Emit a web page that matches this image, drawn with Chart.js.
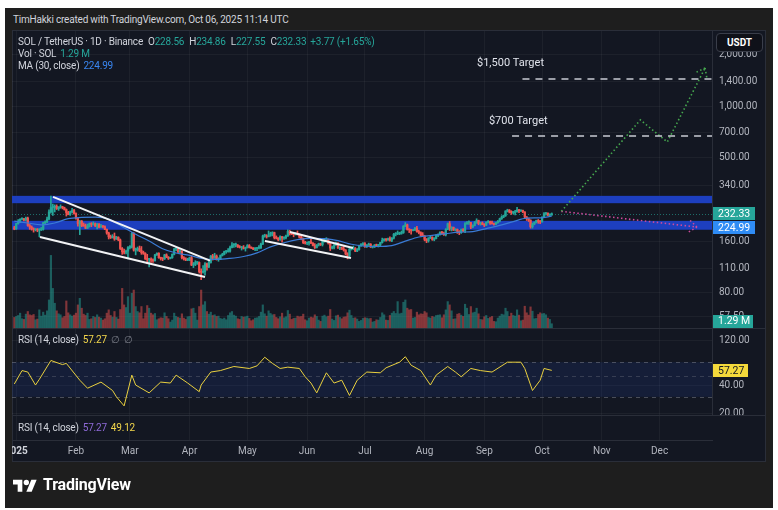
<!DOCTYPE html>
<html lang="en">
<head>
<meta charset="UTF-8">
<title>SOL / TetherUS · 1D · Binance</title>
<script src="https://cdn.jsdelivr.net/npm/chart.js@4.4.1/dist/chart.umd.min.js"></script>
<style>
    * { margin: 0; padding: 0; box-sizing: border-box; }
    body {
        width: 778px; height: 510px; background: #fff; position: relative; overflow: hidden;
        font-family: Roboto, 'Noto Sans', sans-serif;
    }
    .frame { position: absolute; left: 5px; top: 8px; width: 768px; height: 500px; background: #1e1e1e; }
    .created { position: absolute; left: 13px; top: 14px; font-size: 10px; color: #d1d4dc; letter-spacing: -0.2px; }
    .panel { position: absolute; left: 12px; top: 30px; width: 754px; height: 432px; background: #131722; border: 1px solid #2a2e39; }
    canvas { position: absolute; left: 12px; }
    #main { top: 31px; }
    #rsi { top: 329px; }
    #axis { top: 416px; }
    .sep { position: absolute; left: 12px; width: 754px; height: 1px; background: #2a2e39; }
    .legend { position: absolute; left: 18px; font-size: 10px; line-height: 12px; color: #d1d4dc; white-space: nowrap; letter-spacing: -0.2px; }
    .legend span { margin-left: 4px; }
    .legend span.k { margin-left: 5px; }
    .legend span.k + span { margin-left: 0; }
    .up { color: #26a69a; }
    .ma { color: #3a86f0; }
    .yel { color: #f2d64b; }
    .pur { color: #8e6ad8; }
    .dim { color: #787b86; }
    .unit {
        position: absolute; left: 716px; top: 33px; width: 47px; height: 19px;
        background: #0f1119; border: 1px solid #3a3e4a; border-radius: 4px;
        color: #fff; font-size: 10px; font-weight: bold; text-align: center; line-height: 17px;
    }
    .logo { position: absolute; left: 13px; top: 475px; display: flex; align-items: center; gap: 6px; color: #fff; }
    .logo span { font-size: 16px; font-weight: bold; letter-spacing: -0.2px; }
</style>
</head>
<body>
<div class="frame"></div>
<div class="created">TimHakki created with TradingView.com, Oct 06, 2025 11:14 UTC</div>
<div class="panel"></div>

<canvas id="main" width="754" height="297"></canvas>
<div class="sep" style="top:328px"></div>
<canvas id="rsi" width="754" height="86"></canvas>
<div class="sep" style="top:415px"></div>
<canvas id="axis" width="754" height="46"></canvas>

<div class="legend" style="top:36px">SOL / TetherUS · 1D · Binance<span class="k">O</span><span class="up">228.56</span><span class="k">H</span><span class="up">234.86</span><span class="k">L</span><span class="up">227.55</span><span class="k">C</span><span class="up">232.33</span><span class="up">+3.77 (+1.65%)</span></div>
<div class="legend" style="top:48px">Vol · SOL<span class="up">1.29 M</span></div>
<div class="legend" style="top:60px">MA (30, close)<span class="ma">224.99</span></div>
<div class="legend" style="top:334px">RSI (14, close)<span class="yel">57.27</span><span class="dim">∅</span><span class="dim">∅</span></div>
<div class="legend" style="top:422px">RSI (14, close)<span class="pur">57.27</span><span class="yel">49.12</span></div>
<div class="unit">USDT</div>

<div class="logo">
    <svg width="24" height="15" viewBox="0 0 36 22"><path fill="#fff" d="M14 22H7V11H0V4h14v18z"/><circle fill="#fff" cx="20" cy="8" r="4"/><path fill="#fff" d="M28 22h-8l7.5-18h8L28 22z"/></svg>
    <span>TradingView</span>
</div>

<script>
    const FONT = "Roboto, 'Noto Sans', sans-serif";

    // time axis: days counted from Jan 1 2025
    const X_MIN = -2.2, X_MAX = 361.2;
    const FIRST_DAY = -1; // first candle is Dec 31 2024
    const monthDays = [0, 31, 59, 90, 120, 151, 181, 212, 243, 273, 304, 334];
    const monthLabels = ['2025', 'Feb', 'Mar', 'Apr', 'May', 'Jun', 'Jul', 'Aug', 'Sep', 'Oct', 'Nov', 'Dec'];

    const priceTicks = [57.5, 80, 110, 160, 340, 500, 700, 1000, 1400, 2000];
    const rsiTicks = [20, 40, 120];

    // daily candles, Dec 31 .. Oct 6 (one row per month)
    const open = [192,
        189, 203, 208, 216, 217, 213, 219, 198, 194, 190, 187, 187, 186, 187, 188, 205, 208, 216, 238, 253, 253, 257, 249, 253, 254, 252, 246, 236, 230, 238, 243,
        233, 218, 203, 210, 198, 197, 191, 196, 203, 201, 203, 197, 202, 194, 197, 195, 188, 179, 170, 168, 171, 165, 169, 163, 145, 139, 138, 140,
        147, 148, 178, 142, 143, 145, 141, 137, 136, 126, 125, 125, 124, 123, 133, 136, 128, 127, 126, 133, 129, 127, 128, 134, 144, 144, 139, 140, 128, 126, 124,
        124, 128, 116, 117, 120, 120, 106, 105, 106, 118, 113, 120, 131, 127, 131, 125, 125, 132, 134, 139, 139, 140, 147, 152, 152, 152, 149, 147, 147, 145,
        147, 151, 147, 146, 144, 145, 146, 146, 154, 172, 172, 170, 173, 178, 180, 168, 167, 164, 170, 167, 168, 172, 183, 178, 177, 175, 178, 176, 169, 165, 157,
        156, 156, 159, 156, 151, 147, 152, 155, 153, 161, 163, 164, 156, 146, 147, 152, 155, 146, 146, 144, 142, 135, 132, 144, 145, 145, 140, 143, 151, 152,
        155, 149, 152, 154, 148, 148, 152, 151, 152, 157, 162, 164, 163, 166, 162, 167, 176, 177, 177, 178, 180, 196, 200, 188, 187, 185, 187, 191, 182, 180, 173,
        172, 164, 161, 167, 169, 164, 166, 173, 175, 181, 178, 175, 188, 203, 191, 193, 186, 188, 183, 180, 187, 184, 203, 206, 206, 194, 198, 206, 212, 203, 205,
        201, 199, 207, 209, 205, 203, 201, 206, 210, 217, 222, 226, 241, 244, 238, 236, 236, 239, 245, 241, 243, 238, 222, 217, 213, 195, 202, 207, 212, 209,
        208, 222, 232, 234, 228, 228.56];
    const high = [196,
        204, 215, 217, 220, 218, 222, 222, 201, 197, 192, 190, 190, 190, 193, 207, 211, 222, 245, 295, 265, 262, 262, 256, 262, 257, 254, 248, 240, 241, 250, 247,
        235, 220, 212, 212, 205, 202, 202, 205, 206, 208, 205, 204, 203, 201, 198, 197, 189, 181, 174, 175, 179, 171, 170, 165, 147, 144, 142, 149,
        151, 180, 180, 146, 148, 150, 149, 140, 137, 134, 127, 128, 126, 134, 137, 137, 129, 128, 134, 135, 130, 129, 135, 145, 147, 146, 143, 141, 130, 128, 127,
        129, 131, 120, 123, 121, 121, 110, 115, 120, 119, 122, 132, 134, 136, 133, 128, 133, 136, 140, 141, 145, 150, 157, 155, 156, 153, 151, 149, 151, 148,
        153, 153, 148, 147, 147, 147, 151, 156, 174, 176, 175, 184, 181, 182, 181, 172, 168, 172, 171, 170, 174, 187, 186, 180, 178, 180, 184, 177, 172, 167, 160,
        158, 160, 164, 157, 155, 153, 156, 156, 162, 165, 168, 165, 157, 150, 153, 158, 157, 148, 148, 149, 143, 137, 146, 148, 150, 147, 145, 152, 155, 157,
        157, 153, 156, 155, 150, 153, 154, 153, 158, 167, 166, 166, 167, 170, 168, 178, 180, 184, 181, 184, 198, 206, 202, 189, 188, 188, 193, 196, 186, 182, 180,
        173, 166, 168, 172, 170, 168, 175, 177, 182, 183, 181, 190, 205, 209, 195, 194, 190, 189, 185, 189, 190, 206, 209, 211, 207, 200, 209, 217, 213, 207, 208,
        203, 208, 212, 210, 210, 205, 207, 212, 219, 226, 228, 242, 247, 246, 242, 239, 243, 253, 247, 245, 244, 239, 224, 219, 214, 205, 208, 213, 215, 212,
        223, 236, 237, 235, 232, 234.86];
    const low = [187,
        188, 202, 206, 214, 211, 211, 196, 188, 186, 181, 184, 182, 170, 185, 186, 200, 206, 214, 234, 227, 238, 246, 243, 250, 248, 244, 225, 229, 227, 235, 231,
        216, 196, 175, 195, 196, 190, 190, 194, 195, 199, 195, 189, 192, 193, 192, 187, 176, 165, 166, 167, 162, 164, 161, 143, 134, 135, 135, 126,
        144, 146, 140, 133, 140, 139, 134, 134, 125, 118, 113, 120, 120, 122, 132, 127, 124, 123, 125, 128, 125, 126, 127, 133, 141, 137, 137, 126, 124, 123, 123,
        123, 115, 112, 115, 117, 104, 95, 104, 101, 108, 112, 119, 124, 127, 124, 122, 125, 131, 133, 136, 138, 138, 146, 147, 148, 147, 146, 142, 144, 140,
        146, 146, 145, 143, 141, 141, 144, 145, 153, 169, 167, 170, 171, 172, 165, 165, 161, 162, 158, 164, 165, 171, 174, 175, 170, 174, 174, 167, 163, 155, 154,
        153, 152, 155, 150, 145, 146, 150, 151, 150, 158, 160, 154, 141, 144, 144, 151, 145, 143, 143, 140, 133, 126, 130, 142, 143, 139, 139, 142, 149, 151,
        147, 147, 151, 147, 146, 147, 149, 148, 150, 156, 160, 160, 162, 160, 159, 165, 172, 175, 175, 176, 178, 195, 186, 180, 176, 184, 185, 181, 177, 172, 171,
        161, 157, 158, 166, 162, 161, 165, 170, 174, 176, 173, 172, 187, 185, 184, 185, 184, 178, 175, 178, 182, 180, 201, 201, 190, 192, 197, 204, 200, 199, 200,
        195, 198, 205, 201, 202, 199, 200, 204, 208, 215, 220, 224, 238, 235, 230, 232, 229, 237, 236, 240, 236, 218, 212, 209, 191, 191, 200, 205, 204, 203,
        207, 221, 228, 226, 225, 227.55];
    const close = [189,
        203, 208, 216, 217, 213, 219, 198, 194, 190, 187, 187, 186, 187, 188, 205, 208, 216, 238, 253, 253, 257, 249, 253, 254, 252, 246, 236, 230, 238, 243, 233,
        218, 203, 210, 198, 197, 191, 196, 203, 201, 203, 197, 202, 194, 197, 195, 188, 179, 170, 168, 171, 165, 169, 163, 145, 139, 138, 140, 147,
        148, 178, 142, 143, 145, 141, 137, 136, 126, 125, 125, 124, 123, 133, 136, 128, 127, 126, 133, 129, 127, 128, 134, 144, 144, 139, 140, 128, 126, 124, 124,
        128, 116, 117, 120, 120, 106, 105, 106, 118, 113, 120, 131, 127, 131, 125, 125, 132, 134, 139, 139, 140, 147, 152, 152, 152, 149, 147, 147, 145, 147,
        151, 147, 146, 144, 145, 146, 146, 154, 172, 172, 170, 173, 178, 180, 168, 167, 164, 170, 167, 168, 172, 183, 178, 177, 175, 178, 176, 169, 165, 157, 156,
        156, 159, 156, 151, 147, 152, 155, 153, 161, 163, 164, 156, 146, 147, 152, 155, 146, 146, 144, 142, 135, 132, 144, 145, 145, 140, 143, 151, 152, 155,
        149, 152, 154, 148, 148, 152, 151, 152, 157, 162, 164, 163, 166, 162, 167, 176, 177, 177, 178, 180, 196, 200, 188, 187, 185, 187, 191, 182, 180, 173, 172,
        164, 161, 167, 169, 164, 166, 173, 175, 181, 178, 175, 188, 203, 191, 193, 186, 188, 183, 180, 187, 184, 203, 206, 206, 194, 198, 206, 212, 203, 205, 201,
        199, 207, 209, 205, 203, 201, 206, 210, 217, 222, 226, 241, 244, 238, 236, 236, 239, 245, 241, 243, 238, 222, 217, 213, 195, 202, 207, 212, 209, 208,
        222, 232, 234, 228, 228.56, 232.33];
    // volume in millions of SOL
    const volume = [3.2,
        3.5, 3.8, 4.5, 2.8, 2.6, 4.2, 5.0, 4.0, 3.8, 4.1, 2.5, 2.7, 5.5, 3.6, 4.8, 3.9, 5.2, 8.5, 22.0, 12.0, 7.5, 5.2, 4.3, 4.0, 3.1, 3.5, 8.2, 4.6, 4.0, 3.6, 3.9,
        4.5, 7.0, 9.0, 6.0, 4.2, 3.8, 4.5, 2.6, 2.8, 3.5, 3.2, 4.0, 3.3, 3.0, 2.4, 2.8, 4.5, 5.5, 3.8, 3.3, 5.0, 3.2, 2.7, 5.6, 12.0, 7.0, 6.2, 9.5,
        4.5, 10.5, 11.5, 6.5, 5.0, 4.6, 6.5, 2.8, 4.5, 6.8, 6.0, 4.5, 4.0, 4.4, 2.5, 2.8, 3.1, 3.0, 4.6, 3.5, 2.8, 1.8, 2.4, 4.5, 3.5, 3.2, 3.0, 4.3, 3.0, 2.6, 3.4,
        3.5, 5.8, 6.0, 4.5, 2.4, 6.5, 11.5, 7.0, 8.0, 5.0, 4.2, 4.8, 3.8, 4.0, 3.5, 3.6, 2.9, 2.7, 3.0, 2.5, 3.8, 4.6, 5.0, 3.9, 3.6, 2.8, 2.6, 3.5, 3.3, 3.4,
        3.6, 2.9, 2.2, 2.5, 3.0, 3.1, 3.5, 4.8, 7.0, 4.3, 3.6, 5.2, 4.4, 4.0, 4.1, 3.2, 2.8, 3.4, 4.5, 3.1, 3.4, 5.3, 4.2, 2.6, 2.9, 3.0, 3.6, 3.4, 3.5, 4.2, 2.5,
        2.2, 3.0, 3.3, 3.1, 4.0, 3.5, 2.4, 2.0, 3.6, 3.9, 3.4, 3.6, 5.6, 2.7, 2.3, 3.7, 3.9, 3.2, 2.8, 3.3, 3.4, 4.6, 5.4, 3.8, 3.0, 3.1, 2.7, 2.0, 2.3, 2.9,
        3.1, 3.0, 2.8, 2.9, 1.8, 2.0, 2.5, 2.4, 3.2, 4.6, 4.0, 2.4, 2.3, 3.8, 4.5, 5.0, 4.4, 8.0, 4.3, 4.5, 7.8, 8.5, 6.0, 5.5, 5.6, 3.0, 3.2, 4.8, 4.0, 4.3, 4.2,
        5.0, 4.6, 3.2, 3.0, 3.5, 3.3, 3.8, 3.9, 4.0, 3.1, 4.0, 5.5, 8.0, 7.0, 5.2, 2.7, 2.8, 4.2, 4.4, 3.9, 3.5, 7.2, 6.0, 4.1, 6.5, 4.6, 4.8, 6.0, 4.3, 2.6, 2.5,
        3.4, 3.8, 2.9, 3.2, 3.5, 2.0, 1.9, 3.0, 3.6, 4.2, 4.0, 6.0, 5.0, 3.5, 4.5, 3.8, 3.6, 5.5, 3.9, 2.2, 2.4, 6.6, 4.6, 3.9, 6.4, 5.1, 2.8, 2.9, 4.1, 4.6,
        4.3, 4.4, 4.0, 3.0, 2.6, 1.29];

    // MA (30, close)
    const maDay = [-1, 6, 13, 20, 27, 34, 41, 48, 55, 62, 69, 76, 83, 90, 97, 104, 111, 118, 125, 132, 139, 146, 153, 160, 167, 174, 181, 188, 195, 202, 209, 216, 223, 230, 237, 244, 251, 258, 265, 272, 278];
    const maValue = [210, 205, 200, 205, 217.5, 221, 222, 216, 195, 176, 160.5, 144.6, 136.4, 132.2, 126.2, 125.2, 126.9, 130.2, 136.7, 148.2, 156.9, 163.5, 166.6, 165.8, 161.3, 153.6, 149.5, 149, 150.7, 160.2, 169.5, 173.3, 177.3, 180.9, 182.3, 190.1, 198.3, 208.9, 218.8, 219.7, 224.99];

    // RSI (14, close)
    const rsiDay = [-1, 3, 6, 10, 12, 18, 24, 26, 33, 37, 44, 50, 52, 56, 60, 62, 69, 75, 80, 83, 89, 95, 96, 101, 106, 113, 121, 125, 129, 133, 137, 141, 147, 150, 153, 156, 161, 165, 169, 173, 177, 182, 189, 192, 199, 202, 205, 210, 215, 218, 224, 228, 231, 236, 241, 247, 255, 262, 264, 268, 272, 274, 278];
    const rsiValue = [41, 57, 55, 40, 46, 73, 66, 68, 45, 37, 43, 35, 30, 24, 51, 40, 33, 43, 42, 51, 42, 34, 40, 55, 57, 63, 60, 64, 79, 68, 60, 62, 60, 49, 42, 33, 54, 42, 45, 31, 45, 55, 54, 61, 70, 80, 65, 57, 40, 51, 63, 55, 49, 60, 57, 55, 70, 70, 60, 35, 45, 60, 57.27];

    const lastClose = 232.33, lastMA = 224.99, lastVol = 1.29, lastRsi = 57.27;

    // drawings: supply / demand zones [low, high]
    const zones = [[187, 211], [268, 296]];
    // trend lines, [day, price] pairs
    const trendLines = [
        [[19.1, 292], [100.6, 123]],
        [[12.3, 169.5], [98, 98.6]],
        [[142.1, 181.5], [174.8, 146]],
        [[129.1, 160.7], [173.8, 127.6]]
    ];
    const bullDay = [283, 324, 338, 357.6];
    const bullPrice = [240, 828, 614, 1674];
    const bearDay = [283, 353.4];
    const bearPrice = [240, 194];
    const targetPrice = [1442, 667];
    const targetFrom = [262.8, 257.4];
    const targetText = ['$1,500 Target', '$700 Target'];
    const targetTextDay = [239.2, 245.4];
    const targetTextPrice = [1791, 816];

    const P_MIN = 49.4, P_MAX = 2763, VOL_MAX = 90;
    const RSI_MIN = 19.2, RSI_MAX = 157.8;

    const UP = '#26a69a', DOWN = '#ef5350';
    const BULL = '#46a84f', BEAR = '#cf4a9c';
    const GRID = 'rgba(255,255,255,0.045)';

    const days = close.map((_, i) => FIRST_DAY + i);
    const isUp = close.map((c, i) => c >= open[i]);
    const fmt = v => v.toLocaleString('en-US', { minimumFractionDigits: 2, maximumFractionDigits: 2 });

    function monthGrid() {
        return {
            type: 'linear', min: X_MIN, max: X_MAX, offset: false,
            afterBuildTicks: s => { s.ticks = monthDays.map(v => ({ value: v })); },
            ticks: { display: false },
            grid: { color: GRID, drawTicks: false, offset: false },
            border: { display: false },
            afterFit: s => { s.height = 0; s.paddingLeft = 0; s.paddingRight = 0; }
        };
    }

    function rightAxis(type, min, max, tickValues) {
        return {
            type, position: 'right', min, max,
            afterBuildTicks: s => { s.ticks = tickValues.map(v => ({ value: v })); },
            ticks: { color: '#b2b5be', font: { family: FONT, size: 10 }, padding: 7, autoSkip: false, callback: v => fmt(v) },
            grid: { color: GRID, drawTicks: false },
            border: { color: '#2a2e39' },
            afterFit: s => { s.width = 54; s.paddingTop = 0; s.paddingBottom = 0; }
        };
    }

    function axisBox(chart, yPix, text, bg, fg, w) {
        const { ctx, chartArea } = chart;
        const x = chartArea.right + 1;
        ctx.save();
        ctx.fillStyle = bg;
        ctx.fillRect(x, Math.round(yPix - 6.5), w, 13);
        ctx.fillStyle = fg;
        ctx.font = '10.5px ' + FONT;
        ctx.textBaseline = 'middle';
        ctx.textAlign = 'left';
        ctx.fillText(text, x + 5, yPix + 0.5);
        ctx.restore();
    }

    function arrowHead(chart, dList, pList, color) {
        const { ctx } = chart, x = chart.scales.x, y = chart.scales.y;
        const n = dList.length;
        const x1 = x.getPixelForValue(dList[n - 2]), y1 = y.getPixelForValue(pList[n - 2]);
        const x2 = x.getPixelForValue(dList[n - 1]), y2 = y.getPixelForValue(pList[n - 1]);
        const ang = Math.atan2(y2 - y1, x2 - x1);
        ctx.save();
        ctx.strokeStyle = color;
        ctx.lineWidth = 1.6;
        ctx.setLineDash([1.5, 2.5]);
        [-1, 1].forEach(s => {
            const t = ang + Math.PI + s * 0.65;
            ctx.beginPath();
            ctx.moveTo(x2, y2);
            ctx.lineTo(x2 + 10 * Math.cos(t), y2 + 10 * Math.sin(t));
            ctx.stroke();
        });
        ctx.restore();
    }

    const mainDecor = {
        id: 'mainDecor',
        beforeDatasetsDraw(chart) {
            const { ctx, chartArea: a } = chart, y = chart.scales.y;
            ctx.save();
            ctx.fillStyle = '#1d3fbf';
            zones.forEach(([lo, hi]) => {
                const top = y.getPixelForValue(hi), bottom = y.getPixelForValue(lo);
                ctx.fillRect(a.left, top, a.right - a.left, bottom - top);
            });
            const yc = Math.round(y.getPixelForValue(lastClose)) + 0.5;
            ctx.strokeStyle = 'rgba(38,166,154,0.6)';
            ctx.lineWidth = 1;
            ctx.setLineDash([1, 2]);
            ctx.beginPath();
            ctx.moveTo(a.left, yc);
            ctx.lineTo(a.right, yc);
            ctx.stroke();
            ctx.restore();
        },
        afterDatasetsDraw(chart) {
            const { ctx } = chart, x = chart.scales.x, y = chart.scales.y;
            arrowHead(chart, bullDay, bullPrice, BULL);
            arrowHead(chart, bearDay, bearPrice, BEAR);
            ctx.save();
            ctx.fillStyle = '#e0e3eb';
            ctx.font = '11px ' + FONT;
            ctx.textBaseline = 'middle';
            targetText.forEach((t, i) => {
                ctx.fillText(t, x.getPixelForValue(targetTextDay[i]), y.getPixelForValue(targetTextPrice[i]));
            });
            ctx.restore();
        },
        afterDraw(chart) {
            const y = chart.scales.y, yv = chart.scales.yv, a = chart.chartArea;
            const yClose = y.getPixelForValue(lastClose);
            const yMa = Math.max(y.getPixelForValue(lastMA), yClose + 14);
            axisBox(chart, yClose, fmt(lastClose), UP, '#fff', 42);
            axisBox(chart, yMa, fmt(lastMA), '#2f8cf5', '#fff', 42);
            axisBox(chart, Math.min(yv.getPixelForValue(lastVol), a.bottom - 7), lastVol + ' M', UP, '#fff', 40);
        }
    };

    const rsiDecor = {
        id: 'rsiDecor',
        beforeDatasetsDraw(chart) {
            const { ctx, chartArea: a } = chart, y = chart.scales.y;
            const y70 = y.getPixelForValue(70), y50 = y.getPixelForValue(50), y30 = y.getPixelForValue(30);
            ctx.save();
            ctx.fillStyle = 'rgba(41,98,255,0.1)';
            ctx.fillRect(a.left, y70, a.right - a.left, y30 - y70);
            ctx.setLineDash([4, 4]);
            ctx.lineWidth = 1;
            [[y70, 0.55], [y50, 0.35], [y30, 0.55]].forEach(([py, al]) => {
                ctx.strokeStyle = 'rgba(120,123,134,' + al + ')';
                ctx.beginPath();
                ctx.moveTo(a.left, Math.round(py) + 0.5);
                ctx.lineTo(a.right, Math.round(py) + 0.5);
                ctx.stroke();
            });
            ctx.restore();
        },
        afterDraw(chart) {
            axisBox(chart, chart.scales.y.getPixelForValue(lastRsi), fmt(lastRsi), '#f4d93b', '#131722', 35);
        }
    };

    const base = {
        responsive: false,
        animation: false,
        events: [],
        layout: { padding: 0 },
        plugins: { legend: { display: false }, tooltip: { enabled: false } }
    };

    // Price + volume pane
    new Chart(document.getElementById('main'), {
        type: 'bar',
        data: {
            datasets: [
                {
                    type: 'bar', yAxisID: 'yv', order: 10, grouped: false, barThickness: 1.5,
                    data: days.map((d, i) => ({ x: d, y: volume[i] })),
                    backgroundColor: isUp.map(u => u ? 'rgba(38,166,154,0.5)' : 'rgba(239,83,80,0.5)')
                },
                {
                    type: 'bar', yAxisID: 'y', order: 9, grouped: false, barThickness: 1,
                    data: days.map((d, i) => ({ x: d, y: [low[i], high[i]] })),
                    backgroundColor: isUp.map(u => u ? UP : DOWN)
                },
                {
                    type: 'bar', yAxisID: 'y', order: 8, grouped: false, barThickness: 1.6, minBarLength: 1,
                    data: days.map((d, i) => ({ x: d, y: [open[i], close[i]] })),
                    backgroundColor: isUp.map(u => u ? UP : DOWN)
                },
                {
                    type: 'line', yAxisID: 'y', order: 7,
                    data: maDay.map((d, i) => ({ x: d, y: maValue[i] })),
                    borderColor: '#3a7bd5', borderWidth: 1.2, pointRadius: 0, cubicInterpolationMode: 'monotone'
                },
                ...trendLines.map(seg => ({
                    type: 'line', yAxisID: 'y', order: 5,
                    data: seg.map(([d, p]) => ({ x: d, y: p })),
                    borderColor: '#f2f3f5', borderWidth: 2, pointRadius: 0
                })),
                {
                    type: 'line', yAxisID: 'y', order: 4,
                    data: bullDay.map((d, i) => ({ x: d, y: bullPrice[i] })),
                    borderColor: BULL, borderWidth: 1.6, borderDash: [1.5, 2.5], pointRadius: 0
                },
                {
                    type: 'line', yAxisID: 'y', order: 4,
                    data: bearDay.map((d, i) => ({ x: d, y: bearPrice[i] })),
                    borderColor: BEAR, borderWidth: 1.6, borderDash: [1.5, 2.5], pointRadius: 0
                },
                ...targetPrice.map((p, i) => ({
                    type: 'line', yAxisID: 'y', order: 3,
                    data: [{ x: targetFrom[i], y: p }, { x: X_MAX, y: p }],
                    borderColor: '#c9ccd3', borderWidth: 1.5, borderDash: [7, 6], pointRadius: 0
                }))
            ]
        },
        options: {
            ...base,
            scales: {
                x: monthGrid(),
                y: rightAxis('logarithmic', P_MIN, P_MAX, priceTicks),
                yv: { type: 'linear', display: false, min: 0, max: VOL_MAX }
            }
        },
        plugins: [mainDecor]
    });

    // RSI pane
    new Chart(document.getElementById('rsi'), {
        type: 'line',
        data: {
            datasets: [{
                data: rsiDay.map((d, i) => ({ x: d, y: rsiValue[i] })),
                borderColor: '#e9d03f', borderWidth: 1, pointRadius: 0
            }]
        },
        options: {
            ...base,
            scales: {
                x: monthGrid(),
                y: rightAxis('logarithmic', RSI_MIN, RSI_MAX, rsiTicks)
            }
        },
        plugins: [rsiDecor]
    });

    // collapsed pane + time axis
    new Chart(document.getElementById('axis'), {
        type: 'line',
        data: { datasets: [] },
        options: {
            ...base,
            layout: { padding: { right: 54 } },
            scales: {
                x: {
                    type: 'linear', min: X_MIN, max: X_MAX, offset: false,
                    afterBuildTicks: s => { s.ticks = monthDays.map(v => ({ value: v })); },
                    ticks: {
                        autoSkip: false, maxRotation: 0, padding: 5,
                        color: c => c.index === 0 ? '#d1d4dc' : '#b2b5be',
                        font: c => ({ family: FONT, size: 10, weight: c.index === 0 ? 'bold' : 'normal' }),
                        callback: (v, i) => monthLabels[i]
                    },
                    grid: { color: GRID, drawTicks: false },
                    border: { color: '#2a2e39' },
                    afterFit: s => { s.height = 22; s.paddingLeft = 0; s.paddingRight = 0; }
                },
                y: { display: false }
            }
        }
    });
</script>
</body>
</html>
